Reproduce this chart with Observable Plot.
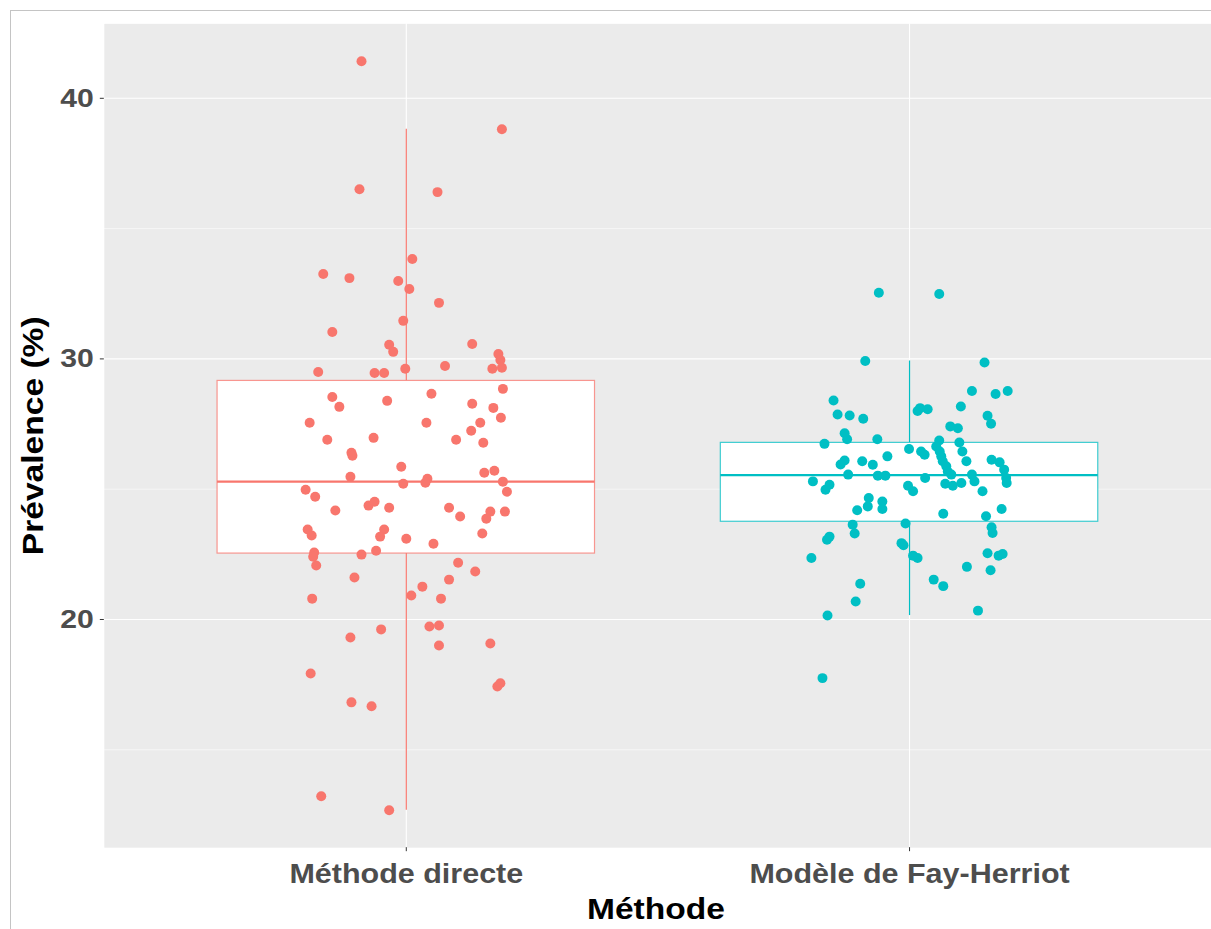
<!DOCTYPE html>
<html>
<head>
<meta charset="utf-8">
<script src="https://cdn.jsdelivr.net/npm/d3@7"></script>
<script src="https://cdn.jsdelivr.net/npm/@observablehq/plot@0.6"></script>
<style>
  html, body { margin: 0; padding: 0; background: #fff; overflow: hidden; }
  #frame { position: absolute; left: 10px; top: 10px; width: 1400px; height: 1100px;
           border-left: 1px solid #c4c4c4; border-top: 1px solid #c4c4c4; }
  #chart { position: absolute; left: 0; top: 0; }
</style>
</head>
<body>
<div id="frame"></div>
<div id="chart"></div>
<script>
// Categories and their colours
const methods = ["Méthode directe", "Modèle de Fay-Herriot"];
const methodColors = ["#F8766D", "#00BFC4"];

// Prevalence (%) per area, direct estimation
const prevDirect = [
  41.42, 38.81, 36.51, 36.40, 33.83, 33.26, 33.10, 32.99, 32.68, 32.15,
  31.46, 31.03, 30.54, 30.27, 30.57, 30.19, 29.96, 29.50, 29.46, 29.46,
  29.62, 29.73, 29.62, 29.66, 28.85, 28.54, 28.16, 28.39, 28.66, 28.28,
  28.12, 27.74, 27.55, 27.55, 27.55, 27.24, 26.90, 26.97, 26.90, 26.78,
  26.40, 26.28, 25.86, 25.63, 25.71, 25.48, 25.40, 25.21, 25.25, 25.29,
  24.90, 24.98, 24.71, 24.37, 24.52, 24.29, 24.18, 24.29, 23.95, 24.14,
  23.87, 24.14, 23.45, 23.22, 23.45, 23.18, 23.10, 23.30, 22.91, 22.57,
  22.41, 22.07, 22.49, 22.64, 22.18, 21.84, 21.61, 21.53, 21.26, 20.80,
  20.92, 20.80, 19.62, 19.31, 19.73, 19.77, 19.00, 19.08, 17.93, 17.55,
  17.43, 16.82, 16.67, 13.22, 12.68
];
// Horizontal jitter of each direct point (category units)
const jitterDirect = [
  -0.089, 0.190, -0.093, 0.062, 0.012, -0.165, -0.113, -0.016, 0.006, 0.065,
  -0.006, -0.147, -0.034, -0.026, 0.131, 0.183, 0.187, -0.175, -0.063, -0.044,
  -0.002, 0.077, 0.171, 0.190, 0.192, -0.147, -0.133, -0.038, 0.050, 0.131,
  0.173, 0.188, -0.192, 0.040, 0.147, 0.129, -0.157, -0.065, 0.099, 0.153,
  -0.109, -0.107, -0.010, 0.155, 0.175, -0.111, 0.042, -0.006, 0.038, 0.192,
  0.200, -0.200, -0.181, -0.075, -0.063, -0.034, -0.141, 0.085, 0.107, 0.167,
  0.159, 0.196, -0.196, -0.188, -0.044, -0.052, 0.000, 0.151, 0.054, -0.183,
  -0.185, -0.179, -0.089, -0.060, 0.103, 0.137, -0.103, 0.085, 0.032, -0.187,
  0.010, 0.069, -0.050, -0.111, 0.046, 0.065, 0.065, 0.167, -0.190, 0.187,
  0.181, -0.109, -0.069, -0.169, -0.034
];

// Prevalence (%) per area, Fay-Herriot model
const prevFH = [
  32.54, 32.49, 29.92, 29.86, 28.77, 28.65, 28.77, 28.40, 28.00, 28.11,
  28.07, 28.17, 27.87, 27.83, 27.70, 27.82, 27.51, 27.41, 27.34, 27.15,
  26.92, 26.92, 26.87, 26.79, 26.74, 26.64, 26.45, 26.26, 26.07, 25.88,
  25.68, 25.56, 26.45, 26.07, 25.56, 25.30, 26.54, 26.45, 26.32, 26.26,
  26.13, 26.03, 25.75, 25.43, 25.24, 26.10, 25.95, 25.56, 26.07, 25.94,
  25.52, 25.52, 25.43, 25.30, 25.17, 24.98, 25.13, 24.92, 25.21, 25.13,
  25.24, 24.92, 24.66, 24.34, 24.53, 24.24, 24.19, 24.06, 24.24, 23.96,
  23.68, 23.64, 23.30, 23.54, 23.32, 23.18, 23.06, 22.93, 22.85, 22.36,
  22.45, 22.36, 22.54, 22.45, 22.51, 22.02, 21.89, 21.37, 21.53, 21.28,
  20.69, 20.15, 20.34, 17.75
];
// Horizontal jitter of each Fay-Herriot point (category units)
const jitterFH = [
  -0.061, 0.059, -0.088, 0.149, 0.124, 0.171, 0.195, -0.151, 0.016, 0.021,
  0.036, 0.102, -0.143, -0.119, -0.092, 0.155, 0.162, 0.081, 0.096, -0.129,
  -0.124, -0.064, 0.059, 0.099, -0.169, 0.053, 0.060, 0.063, 0.066, 0.073,
  0.076, 0.083, 0.105, 0.113, 0.124, 0.129, -0.001, 0.023, 0.030, -0.044,
  0.163, 0.179, 0.188, 0.192, 0.193, -0.129, -0.137, -0.122, -0.094, -0.073,
  -0.063, -0.048, 0.031, -0.192, -0.159, -0.167, -0.003, 0.007, 0.071, 0.086,
  0.103, 0.145, -0.081, -0.083, -0.054, -0.054, -0.104, 0.067, 0.183, 0.152,
  -0.008, -0.113, -0.109, 0.163, 0.165, -0.159, -0.164, -0.016, -0.012, -0.195,
  0.007, 0.016, 0.155, 0.177, 0.185, 0.114, 0.161, -0.098, 0.048, 0.067,
  -0.107, -0.163, 0.136, -0.173
];

// Axis ticks
const yMajor = [20, 30, 40];
const yMinor = [15, 25, 35];
const xTitle = "Méthode";
const yTitle = "Prévalence (%)";

// Long table of points: position 1 / 2 on a continuous x plus jitter
const groups = [prevDirect, prevFH];
const jitters = [jitterDirect, jitterFH];
const points = groups.flatMap((vals, g) =>
  vals.map((v, i) => ({method: methods[g], x: g + 1 + jitters[g][i], y: v})));

// Box statistics (R type-7 quantiles, Tukey whiskers at 1.5 IQR)
const boxes = groups.map((vals, g) => {
  const s = vals.slice().sort(d3.ascending);
  const q1 = d3.quantile(s, 0.25), med = d3.quantile(s, 0.5), q3 = d3.quantile(s, 0.75);
  const iqr = q3 - q1;
  const lo = d3.min(s.filter(v => v >= q1 - 1.5 * iqr));
  const hi = d3.max(s.filter(v => v <= q3 + 1.5 * iqr));
  return {method: methods[g], x: g + 1, q1, med, q3, lo, hi};
});

// y range: data extent plus 5 % on each side
const [yLo, yHi] = d3.extent(points, d => d.y);
const pad = (yHi - yLo) * 0.05;
const halfBox = 0.375;

const font = "'Liberation Sans', Arial, Helvetica, sans-serif";

const svg = Plot.plot({
  width: 1213,
  height: 929,
  marginLeft: 104,
  marginRight: 0,
  marginTop: 23.4,
  marginBottom: 80.4,
  style: {background: "transparent", fontFamily: font},
  x: {domain: [0.4, 2.6], axis: null},
  y: {domain: [yLo - pad, yHi + pad], axis: null},
  color: {domain: methods, range: methodColors},
  marks: [
    Plot.frame({fill: "#EBEBEB", stroke: null}),
    Plot.ruleY(yMinor, {stroke: "white", strokeWidth: 0.55}),
    Plot.ruleY(yMajor, {stroke: "white", strokeWidth: 1.1}),
    Plot.ruleX([1, 2], {stroke: "white", strokeWidth: 1.1}),
    // whiskers
    Plot.ruleX(boxes, {x: "x", y1: "lo", y2: "q1", stroke: "method", strokeWidth: 1.2}),
    Plot.ruleX(boxes, {x: "x", y1: "q3", y2: "hi", stroke: "method", strokeWidth: 1.2}),
    // boxes and medians
    Plot.rect(boxes, {x1: d => d.x - halfBox, x2: d => d.x + halfBox, y1: "q1", y2: "q3",
                      fill: "white", stroke: "method", strokeWidth: 1.2, strokeOpacity: 0.75}),
    Plot.ruleY(boxes, {y: "med", x1: d => d.x - halfBox, x2: d => d.x + halfBox,
                       stroke: "method", strokeWidth: 2.3}),
    // jittered observations
    Plot.dot(points, {x: "x", y: "y", r: 5, fill: "method", stroke: null}),
    // axes
    Plot.axisY(yMajor, {tickSize: 4, tickPadding: 6.5, stroke: "#333333", fill: "#4D4D4D",
                        fontSize: 26.5, fontWeight: "bold", label: null}),
    Plot.axisX([1, 2], {tickSize: 4, tickPadding: 12, stroke: "#333333", fill: "#4D4D4D",
                        fontSize: 26.8, fontWeight: "bold", label: null,
                        tickFormat: d => methods[d - 1]}),
    // axis titles
    Plot.text([xTitle], {frameAnchor: "bottom", textAnchor: "middle", lineAnchor: "middle",
                         dx: -2, dy: 62, fontSize: 29.5, fontWeight: "bold", fill: "black"}),
    Plot.text([yTitle], {frameAnchor: "left", textAnchor: "middle", lineAnchor: "middle",
                         rotate: -90, dx: -70.5, dy: 0, fontSize: 29.5, fontWeight: "bold",
                         fill: "black"})
  ]
});

document.getElementById("chart").append(svg);

// The labels use a slightly wide bold face: stretch each label along its line.
svg.querySelectorAll("text").forEach(t => {
  const w = t.getComputedTextLength();
  t.setAttribute("textLength", (w * 1.14).toFixed(1));
  t.setAttribute("lengthAdjust", "spacingAndGlyphs");
});
</script>
</body>
</html>
